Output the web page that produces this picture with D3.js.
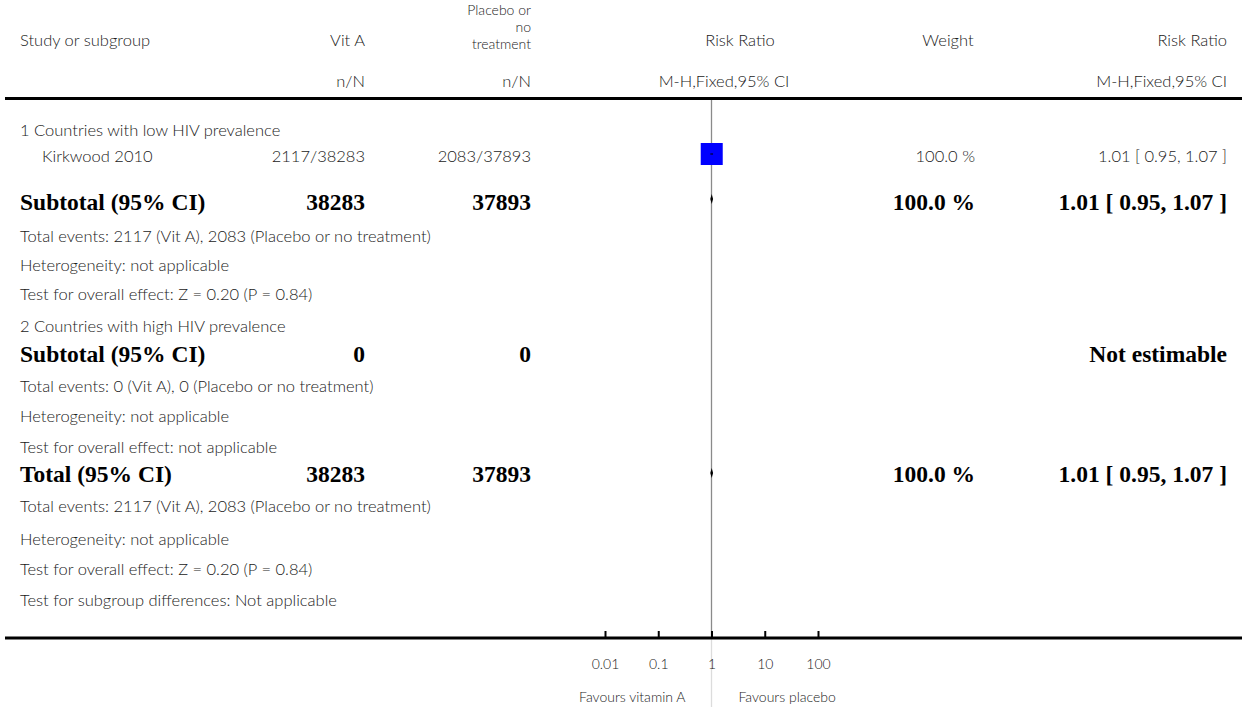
<!DOCTYPE html>
<html>
<head>
<meta charset="utf-8">
<script src="https://cdn.jsdelivr.net/npm/d3@7"></script>
<style>
  html, body { margin: 0; padding: 0; background: #fff; }
  svg { display: block; }
  .lt { font-family: Lato, "Open Sans", "DejaVu Sans", sans-serif; font-weight: 300; font-size: 16.5px; fill: #1a1a1a; }
  .hd { font-family: Lato, "Open Sans", "DejaVu Sans", sans-serif; font-weight: 300; font-size: 14px; fill: #1a1a1a; }
  .bd { font-family: "Liberation Serif", "Times New Roman", serif; font-weight: bold; font-size: 23.5px; fill: #000; }
  .sm { font-family: Lato, "Open Sans", "DejaVu Sans", sans-serif; font-weight: 300; font-size: 14px; fill: #1a1a1a; }
</style>
</head>
<body>
<svg id="chart" width="1242" height="707"></svg>
<script>
// ---- Study-level data ----
const studyNames    = ["Kirkwood 2010"];
const vitAEvents    = [2117];
const vitATotals    = [38283];
const placeboEvents = [2083];
const placeboTotals = [37893];
const studyWeights  = [100.0];
const studyRR       = [1.01];
const studyLow      = [0.95];
const studyHigh     = [1.07];

// ---- Subgroup summaries ----
const subgroupNames         = ["1 Countries with low HIV prevalence", "2 Countries with high HIV prevalence"];
const subgroupVitATotals    = [38283, 0];
const subgroupPlaceboTotals = [37893, 0];
const subgroupVitAEvents    = [2117, 0];
const subgroupPlaceboEvents = [2083, 0];
const subgroupWeights       = [100.0, null];
const subgroupRR            = [1.01, null];
const subgroupLow           = [0.95, null];
const subgroupHigh          = [1.07, null];
const subgroupEffectTest    = ["Z = 0.20 (P = 0.84)", "not applicable"];

// ---- Overall summary ----
const totalCounts      = [38283, 37893];
const totalEvents      = [2117, 2083];
const totalWeight      = [100.0];
const totalEstimate    = [1.01, 0.95, 1.07];
const totalEffectTest  = ["Z = 0.20 (P = 0.84)"];

// ---- Axis ----
const axisTicks      = [0.01, 0.1, 1, 10, 100];
const axisTickLabels = ["0.01", "0.1", "1", "10", "100"];
const favourLabels   = ["Favours vitamin A", "Favours placebo"];

const W = 1242, H = 707;
const svg = d3.select("#chart");

// column anchors
const col = { study: 20, indent: 42, vitA: 365, plac: 531, weight: 975, rr: 1227 };
const x = d3.scaleLog().domain([0.01, 100]).range([605, 818]);
const boxSize = d3.scaleSqrt().domain([0, 100]).range([0, 22]);

const fmt2 = d3.format(".2f");
const fmtW = d => d3.format(".1f")(d) + " %";
const fmtCI = (m, l, h) => `${fmt2(m)} [ ${fmt2(l)}, ${fmt2(h)} ]`;

function light(xp, y, txt, anchor = "start", cls = "lt") {
  svg.append("text").attr("class", cls).attr("x", xp).attr("y", y)
    .attr("text-anchor", anchor).text(txt);
}
function bold(xp, y, txt, anchor = "start") {
  svg.append("text").attr("class", "bd").attr("x", xp).attr("y", y)
    .attr("text-anchor", anchor).text(txt);
}

// ---- Header ----
light(col.study, 46, "Study or subgroup");
light(col.vitA, 46, "Vit A", "end");
light(col.plac, 14.5, "Placebo or", "end", "hd");
light(col.plac, 31.5, "no", "end", "hd");
light(col.plac, 48.5, "treatment", "end", "hd");
light(740, 46, "Risk Ratio", "middle");
light(948, 46, "Weight", "middle");
light(col.rr, 46, "Risk Ratio", "end");
light(col.vitA, 87, "n/N", "end");
light(col.plac, 87, "n/N", "end");
light(724, 87, "M-H,Fixed,95% CI", "middle");
light(col.rr, 87, "M-H,Fixed,95% CI", "end");

// rules
const topRuleY = 98.5, botRuleY = 638;
svg.append("line").attr("x1", 5).attr("x2", W).attr("y1", topRuleY).attr("y2", topRuleY)
  .attr("stroke", "#000").attr("stroke-width", 3);

// reference line at RR = 1
svg.append("line").attr("x1", x(1)).attr("x2", x(1)).attr("y1", topRuleY + 1.5).attr("y2", botRuleY)
  .attr("stroke", "#8a8a8a").attr("stroke-width", 1.3);
svg.append("line").attr("x1", x(1)).attr("x2", x(1)).attr("y1", botRuleY).attr("y2", H)
  .attr("stroke", "#dcdcdc").attr("stroke-width", 1.3);

// ---- Row positions (text baselines) ----
const rowY = {
  g1: 136, s1: 162, sub1: 210, ev1: 242, het1: 271, test1: 300,
  g2: 332, sub2: 362, ev2: 392, het2: 422, test2: 453,
  tot: 482, evT: 512, hetT: 545, testT: 575, diff: 606
};

// group 1
light(col.study, rowY.g1, subgroupNames[0]);
studyNames.forEach((name, i) => {
  const y = rowY.s1;
  light(col.indent, y, name);
  light(col.vitA, y, `${vitAEvents[i]}/${vitATotals[i]}`, "end");
  light(col.plac, y, `${placeboEvents[i]}/${placeboTotals[i]}`, "end");
  light(col.weight, y, fmtW(studyWeights[i]), "end");
  light(col.rr, y, fmtCI(studyRR[i], studyLow[i], studyHigh[i]), "end");
  const cy = y - 8, s = boxSize(studyWeights[i]);
  svg.append("rect").attr("x", x(studyRR[i]) - s / 2).attr("y", cy - s / 2)
    .attr("width", s).attr("height", s).attr("fill", "#0000ff");
  svg.append("line").attr("x1", x(studyLow[i])).attr("x2", x(studyHigh[i]))
    .attr("y1", cy).attr("y2", cy).attr("stroke", "#000").attr("stroke-width", 1);
});

function diamond(cy, m, l, h) {
  const hh = 5;
  const pts = [[x(l), cy], [x(m), cy - hh], [x(h), cy], [x(m), cy + hh]];
  svg.append("path").attr("d", d3.line()(pts) + "Z").attr("fill", "#000");
}

function summaryBlock(i, ySub, yEv, yHet, yTest) {
  bold(col.study, ySub, "Subtotal (95% CI)");
  bold(col.vitA, ySub, String(subgroupVitATotals[i]), "end");
  bold(col.plac, ySub, String(subgroupPlaceboTotals[i]), "end");
  if (subgroupRR[i] != null) {
    bold(col.weight, ySub, fmtW(subgroupWeights[i]), "end");
    bold(col.rr, ySub, fmtCI(subgroupRR[i], subgroupLow[i], subgroupHigh[i]), "end");
    diamond(ySub - 11, subgroupRR[i], subgroupLow[i], subgroupHigh[i]);
  } else {
    bold(col.rr, ySub, "Not estimable", "end");
  }
  light(col.study, yEv, `Total events: ${subgroupVitAEvents[i]} (Vit A), ${subgroupPlaceboEvents[i]} (Placebo or no treatment)`);
  light(col.study, yHet, "Heterogeneity: not applicable");
  light(col.study, yTest, `Test for overall effect: ${subgroupEffectTest[i]}`);
}

summaryBlock(0, rowY.sub1, rowY.ev1, rowY.het1, rowY.test1);
light(col.study, rowY.g2, subgroupNames[1]);
summaryBlock(1, rowY.sub2, rowY.ev2, rowY.het2, rowY.test2);

// overall
bold(col.study, rowY.tot, "Total (95% CI)");
bold(col.vitA, rowY.tot, String(totalCounts[0]), "end");
bold(col.plac, rowY.tot, String(totalCounts[1]), "end");
bold(col.weight, rowY.tot, fmtW(totalWeight[0]), "end");
bold(col.rr, rowY.tot, fmtCI(...totalEstimate), "end");
diamond(rowY.tot - 9, ...totalEstimate);
light(col.study, rowY.evT, `Total events: ${totalEvents[0]} (Vit A), ${totalEvents[1]} (Placebo or no treatment)`);
light(col.study, rowY.hetT, "Heterogeneity: not applicable");
light(col.study, rowY.testT, `Test for overall effect: ${totalEffectTest[0]}`);
light(col.study, rowY.diff, "Test for subgroup differences: Not applicable");

// ---- Bottom rule and log axis ----
svg.append("line").attr("x1", 5).attr("x2", W).attr("y1", botRuleY).attr("y2", botRuleY)
  .attr("stroke", "#000").attr("stroke-width", 3);

const axis = d3.axisBottom(x)
  .tickValues(axisTicks)
  .tickFormat((d, i) => axisTickLabels[i])
  .tickSizeInner(-7).tickSizeOuter(0).tickPadding(21);
const gAxis = svg.append("g").attr("transform", `translate(0,${botRuleY})`).call(axis);
gAxis.select(".domain").remove();
gAxis.selectAll(".tick line").attr("stroke", "#000").attr("stroke-width", 2);
gAxis.selectAll(".tick text").attr("class", "sm");
gAxis.attr("font-size", null).attr("font-family", null);

light(x(1) - 26, 702, favourLabels[0], "end", "sm");
light(x(1) + 27, 702, favourLabels[1], "start", "sm");
</script>
</body>
</html>
